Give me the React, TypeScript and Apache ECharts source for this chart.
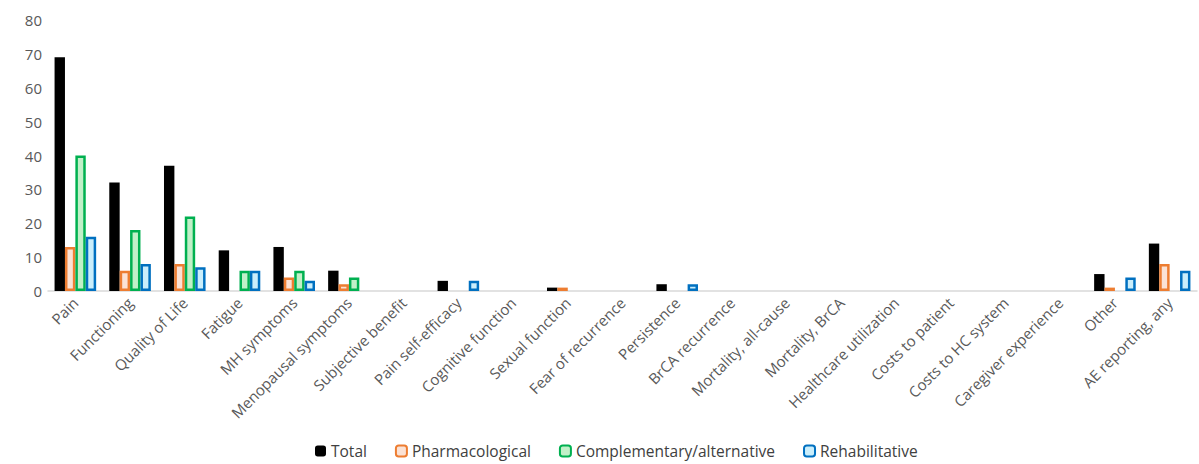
import React, { useEffect, useRef } from "react";
import * as echarts from "echarts";

const categories = [
  "Pain", "Functioning", "Quality of Life", "Fatigue", "MH symptoms", "Menopausal symptoms",
  "Subjective benefit", "Pain self-efficacy", "Cognitive function", "Sexual function",
  "Fear of recurrence", "Persistence", "BrCA recurrence", "Mortality, all-cause", "Mortality, BrCA",
  "Healthcare utilization", "Costs to patient", "Costs to HC system", "Caregiver experience",
  "Other", "AE reporting, any",
];
const total = [69, 32, 37, 12, 13, 6, 0, 3, 0, 1, 0, 2, 0, 0, 0, 0, 0, 0, 0, 5, 14];
const pharmacological = [13, 6, 8, 0, 4, 2, 0, 0, 0, 1, 0, 0, 0, 0, 0, 0, 0, 0, 0, 1, 8];
const complementary = [40, 18, 22, 6, 6, 4, 0, 0, 0, 0, 0, 0, 0, 0, 0, 0, 0, 0, 0, 0, 0];
const rehabilitative = [16, 8, 7, 6, 3, 0, 0, 3, 0, 0, 0, 2, 0, 0, 0, 0, 0, 0, 0, 4, 6];
const yTicks = { min: 0, max: 80, interval: 10 };

const FONT = "'Open Sans', sans-serif";

export default function App() {
  const ref = useRef<HTMLDivElement>(null);
  useEffect(() => {
    if (!ref.current) return;
    const chart = echarts.init(ref.current, null, { renderer: "svg" });
    const z = (arr: number[]) => arr.map((v) => (v === 0 ? null : v));
    const mk = (name: string, data: number[], fill: string, border?: string) => ({
      name,
      type: "bar",
      data: z(data),
      barGap: "0%",
      barCategoryGap: "24%",
      itemStyle: border
        ? { color: fill, borderColor: border, borderWidth: 2.5 }
        : { color: fill },
    });
    chart.setOption({
      animation: false,
      textStyle: { fontFamily: FONT },
      grid: { left: 48, right: 2, top: 20, bottom: 173, containLabel: false },
      legend: {
        left: 312,
        top: 440,
        padding: 3,
        itemWidth: 11,
        itemHeight: 11,
        itemGap: 28,
        textStyle: { fontSize: 15.5, color: "#404040", fontFamily: FONT },
        data: ["Total", "Pharmacological", "Complementary/alternative", "Rehabilitative"],
      },
      xAxis: {
        type: "category",
        data: categories,
        axisLine: { lineStyle: { color: "#D9D9D9", width: 1.5 } },
        axisTick: { show: false },
        axisLabel: {
          rotate: 45,
          interval: 0,
          color: "#595959",
          fontSize: 15,
          margin: 9,
          fontFamily: FONT,
        },
      },
      yAxis: {
        type: "value",
        min: yTicks.min,
        max: yTicks.max,
        interval: yTicks.interval,
        splitLine: { show: false },
        axisLine: { show: false },
        axisTick: { show: false },
        axisLabel: { color: "#595959", fontSize: 15, margin: 6, fontFamily: FONT },
      },
      series: [
        mk("Total", total, "#000000"),
        mk("Pharmacological", pharmacological, "#FBE2D5", "#ED7D31"),
        mk("Complementary/alternative", complementary, "#C1F0C8", "#00B050"),
        mk("Rehabilitative", rehabilitative, "#CAEEFB", "#0070C0"),
      ],
    });
    return () => chart.dispose();
  }, []);
  return (
    <div
      ref={ref}
      style={{ position: "absolute", left: 0, top: 0, width: 1199, height: 464, background: "#fff" }}
    />
  );
}
